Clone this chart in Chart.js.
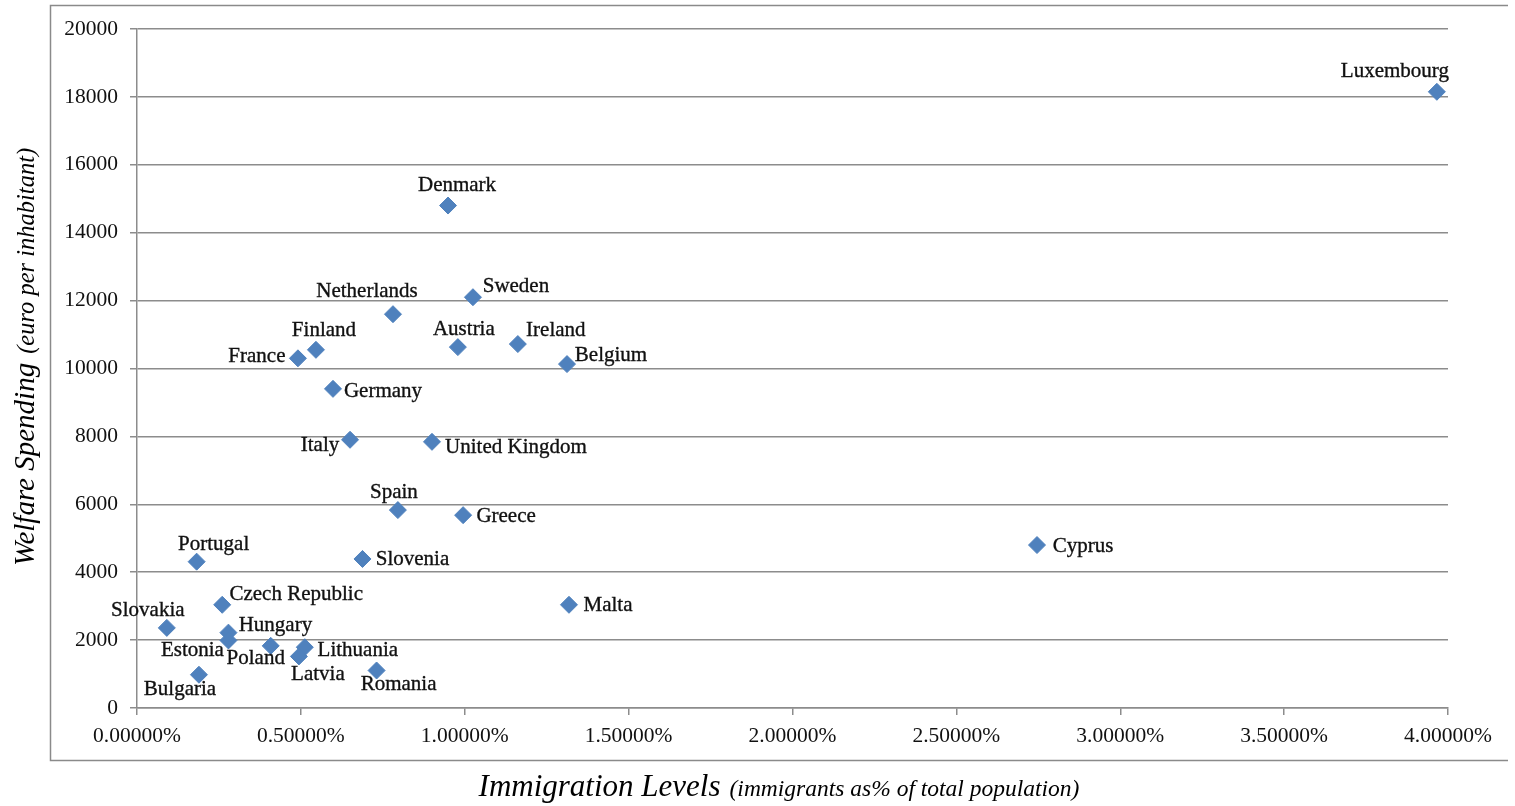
<!DOCTYPE html>
<html>
<head>
<meta charset="utf-8">
<script src="https://cdn.jsdelivr.net/npm/chart.js@4.4.1/dist/chart.umd.min.js"></script>
<style>
  html, body { margin: 0; padding: 0; background: #ffffff; }
  #wrap { position: relative; width: 1515px; height: 806px; }
</style>
</head>
<body>
<div id="wrap"><canvas id="c" width="1515" height="806"></canvas></div>
<script>
// ---- Data ----
const countries = ["Luxembourg","Denmark","Sweden","Netherlands","Austria","Ireland","Belgium","Finland","France","Germany","Italy","United Kingdom","Spain","Greece","Cyprus","Portugal","Slovenia","Malta","Czech Republic","Slovakia","Hungary","Estonia","Poland","Lithuania","Latvia","Bulgaria","Romania"];
const immigrationPct = [3.966, 0.949, 1.025, 0.781, 0.979, 1.162, 1.312, 0.546, 0.491, 0.598, 0.650, 0.900, 0.796, 0.995, 2.746, 0.182, 0.688, 1.318, 0.260, 0.091, 0.279, 0.279, 0.408, 0.512, 0.494, 0.189, 0.731];
const welfareSpending = [18150, 14800, 12100, 11600, 10630, 10720, 10130, 10550, 10300, 9400, 7900, 7840, 5830, 5680, 4800, 4310, 4390, 3040, 3040, 2360, 2220, 1990, 1830, 1790, 1520, 980, 1105];
const xTicksMin = 0, xTicksMax = 4, xStep = 0.5;
const yTicksMin = 0, yTicksMax = 20000, yStep = 2000;

// label placement (offset of label centre from its point, in px) - style only
const labelOffsets = [[-42,-20],[9,-20],[43,-11],[-26,-23],[6,-18],[38,-14],[44,-9],[8,-19],[-41,-2],[50,3],[-30,6],[84,6],[-4,-18],[43,1],[46,1],[17,-17],[50,1],[39,1],[74,-10],[-19,-17],[47,-7],[-36,10],[-15,13],[53,3],[19,18],[-19,15],[22,14]];

const points = immigrationPct.map((x, i) => ({ x: x, y: welfareSpending[i] }));

const SERIF = '"Liberation Serif", "Times New Roman", serif';
const GRID = '#8c8c8c';
const TEXT = '#111111';

const labelPlugin = {
  id: 'pointLabels',
  afterDatasetsDraw(chart) {
    const ctx = chart.ctx;
    const meta = chart.getDatasetMeta(0);
    ctx.save();
    ctx.font = '21px ' + SERIF;
    ctx.fillStyle = TEXT;
    ctx.strokeStyle = TEXT;
    ctx.lineWidth = 0.35;
    ctx.textAlign = 'center';
    ctx.textBaseline = 'middle';
    meta.data.forEach((el, i) => {
      const o = labelOffsets[i];
      ctx.fillText(countries[i], el.x + o[0], el.y + o[1]);
      ctx.strokeText(countries[i], el.x + o[0], el.y + o[1]);
    });
    ctx.restore();
  }
};

const framePlugin = {
  id: 'frameTitles',
  afterDraw(chart) {
    const ctx = chart.ctx;
    ctx.save();
    // outer frame (top, left, bottom)
    ctx.strokeStyle = '#8a8a8a';
    ctx.lineWidth = 1.5;
    ctx.beginPath();
    ctx.moveTo(1508, 5.5);
    ctx.lineTo(50.5, 5.5);
    ctx.lineTo(50.5, 760.5);
    ctx.lineTo(1508, 760.5);
    ctx.stroke();

    ctx.fillStyle = '#000000';
    ctx.textBaseline = 'alphabetic';
    ctx.textAlign = 'left';
    const gap = 9;
    // X title
    const xMain = 'Immigration Levels';
    const xSub = '(immigrants as% of total population)';
    const xMainFont = 'italic 31px ' + SERIF, xSubFont = 'italic 23.5px ' + SERIF;
    ctx.font = xMainFont;
    const w1 = ctx.measureText(xMain).width;
    ctx.font = xSubFont;
    const w2 = ctx.measureText(xSub).width;
    const cx = 779;
    const sx = cx - (w1 + gap + w2) / 2;
    ctx.font = xMainFont;
    ctx.fillText(xMain, sx, 796);
    ctx.font = xSubFont;
    ctx.fillText(xSub, sx + w1 + gap, 796);

    // Y title
    const yMain = 'Welfare Spending';
    const ySub = '(euro per inhabitant)';
    const yMainFont = 'italic 29px ' + SERIF, ySubFont = 'italic 24.5px ' + SERIF;
    ctx.font = yMainFont;
    const h1 = ctx.measureText(yMain).width;
    ctx.font = ySubFont;
    const h2 = ctx.measureText(ySub).width;
    ctx.translate(34, 357);
    ctx.rotate(-Math.PI / 2);
    const sy = -(h1 + gap + h2) / 2;
    ctx.font = yMainFont;
    ctx.fillText(yMain, sy, 0);
    ctx.font = ySubFont;
    ctx.fillText(ySub, sy + h1 + gap, 0);
    ctx.restore();
  }
};

new Chart(document.getElementById('c'), {
  type: 'scatter',
  data: {
    datasets: [{
      label: 'Countries',
      data: points,
      pointStyle: 'rectRot',
      pointRadius: 8.5,
      pointHoverRadius: 8.5,
      backgroundColor: '#4f81bd',
      borderColor: '#4f81bd',
      borderWidth: 1
    }]
  },
  options: {
    responsive: false,
    animation: false,
    devicePixelRatio: 1,
    layout: { padding: { left: 0, top: 29, right: 67, bottom: 0 } },
    plugins: {
      legend: { display: false },
      tooltip: { enabled: false },
      title: { display: false }
    },
    scales: {
      x: {
        type: 'linear',
        min: xTicksMin, max: xTicksMax,
        afterFit(s) { s.height = 98; },
        border: { display: true, color: GRID, width: 1.5 },
        grid: { display: true, drawOnChartArea: false, drawTicks: true, tickLength: 7, color: GRID, lineWidth: 1.5 },
        ticks: {
          stepSize: xStep,
          padding: 8,
          color: TEXT,
          font: { family: SERIF, size: 21.5 },
          maxRotation: 0,
          callback: v => v.toFixed(5) + '%'
        }
      },
      y: {
        type: 'linear',
        min: yTicksMin, max: yTicksMax,
        afterFit(s) { s.width = 137; },
        border: { display: true, color: GRID, width: 1.5 },
        grid: { display: true, drawOnChartArea: true, drawTicks: true, tickLength: 7, color: GRID, lineWidth: 1.5 },
        ticks: {
          stepSize: yStep,
          padding: 12,
          color: TEXT,
          font: { family: SERIF, size: 21.5 },
          callback: v => String(v)
        }
      }
    }
  },
  plugins: [labelPlugin, framePlugin]
});
</script>
</body>
</html>
